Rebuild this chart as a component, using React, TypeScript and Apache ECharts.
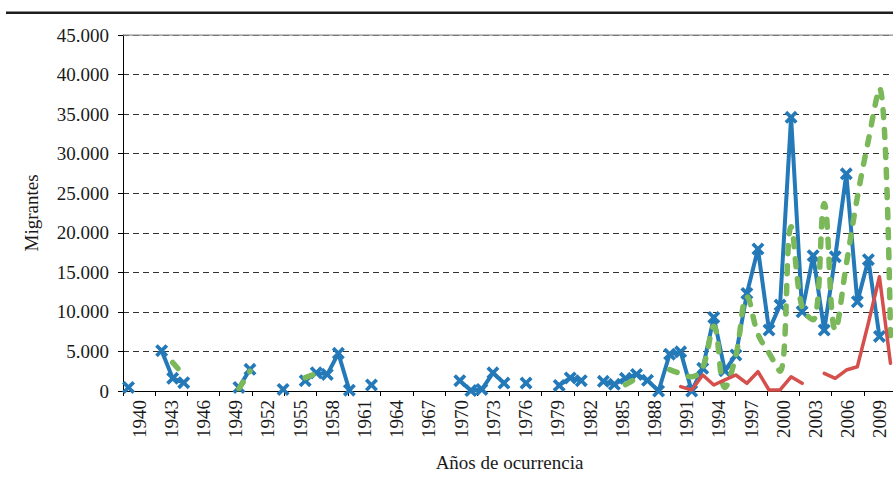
import React, { useEffect, useRef } from "react";
import * as echarts from "echarts";

// Visible axis: tick and label categories
const tickYears = [
  "1939","1940","1941","1942","1943","1944","1945","1946","1947","1948",
  "1949","1950","1951","1952","1953","1954","1955","1956","1957","1958",
  "1959","1960","1961","1962","1963","1964","1965","1966","1967","1968",
  "1969","1970","1971","1972","1973","1974","1975","1976","1977","1978",
  "1979","1980","1981","1982","1983","1984","1985","1986","1987","1988",
  "1989","1990","1991","1992","1993","1994","1995","1996","1997","1998",
  "1999","2000","2001","2002","2003","2004","2005","2006","2007","2008",
  "2009","2010",
];

// Data categories (one per plotted point)
const dataYears = [
  "1940","1941","1942","1943","1944","1945","1946","1947","1948","1949",
  "1950","1951","1952","1953","1954","1955","1956","1957","1958","1959",
  "1960","1961","1962","1963","1964","1965","1966","1967","1968","1969",
  "1970","1971","1972","1973","1974","1975","1976","1977","1978","1979",
  "1980","1981","1982","1983","1984","1985","1986","1987","1988","1989",
  "1990","1991","1992","1993","1994","1995","1996","1997","1998","1999",
  "2000","2001","2002","2003","2004","2005","2006","2007","2008","2009",
];

const blueSeries = [
  450, null, null, 5100, 1600, 1050, null, null, null, null,
  450, 2740, null, null, 200, null, 1300, 2310, 2100, 4760,
  100, null, 760, null, null, null, null, null, null, null,
  1300, 50, 200, 2300, 1000, null, 1000, null, null, 700,
  1650, 1300, null, 1220, 850, 1600, 2100, 1350, 0, 4650,
  4950, 0, 2860, 9300, 2570, 4550, 12340, 17950, 7700, 10860,
  34600, 10020, 17100, 7700, 16970, 27450, 11280, 16600, 6900, null,
];

const greenSeries = [
  null, null, null, null, 3600, 2000, null, null, null, null,
  300, 2500, null, null, null, null, 1700, 2200, null, null,
  null, null, null, null, null, null, null, null, null, null,
  null, null, null, null, null, null, null, null, null, null,
  null, null, null, null, null, 800, 1600, null, null, 2700,
  2200, 1800, 3000, 8200, 450, 4500, 11900, 7200, 4800, 2500,
  20750, 10500, 9000, 23700, 7700, 16000, 24500, 31700, 38300, 7000,
];

const redSeries = [
  null, null, null, null, null, null, null, null, null, null,
  null, null, null, null, null, null, null, null, null, null,
  null, null, null, null, null, null, null, null, null, null,
  null, null, null, null, null, null, null, null, null, null,
  null, null, null, null, null, null, null, null, null, null,
  550, 130, 2020, 760, 1400, 2020, 970, 2440, 130, 130,
  1800, 970, null, 2230, 1600, 2650, 3070, 8600, 14440, 3500,
];

const yMin = 0;
const yMax = 45000;
const yStep = 5000;

const FONT = '"Liberation Serif", "Times New Roman", serif';
const TEXT = "#1a1a1a";
const BLUE = "#2479b8";
const GREEN = "#7bb85a";
const RED = "#d5504c";
const X_SYMBOL = "path://M0,2L2,0L5,3L8,0L10,2L7,5L10,8L8,10L5,7L2,10L0,8L3,5Z";

function formatY(v: number): string {
  if (v === 0) return "0";
  return String(v / 1000) + ".000";
}

export default function App() {
  const ref = useRef<HTMLDivElement>(null);
  useEffect(() => {
    if (!ref.current) return;
    const chart = echarts.init(ref.current, null, { renderer: "svg" });
    chart.setOption({
      animation: false,
      backgroundColor: "#fff",
      textStyle: { fontFamily: FONT, color: TEXT },
      grid: {
        left: 123,
        top: 35,
        width: 773,
        height: 356,
        containLabel: false,
        outerBoundsMode: "none",
      },
      graphic: [
        {
          type: "rect",
          left: 6,
          top: 11.5,
          shape: { x: 0, y: 0, width: 930, height: 2.6 },
          style: { fill: "#1e1e1e" },
          z: 100,
        },
        {
          type: "rect",
          left: 123,
          top: 34.4,
          shape: { x: 0, y: 0, width: 800, height: 1.3 },
          style: { fill: "#8c8c8c" },
          z: 100,
        },
      ],
      xAxis: [
        {
          type: "category",
          data: tickYears,
          boundaryGap: true,
          position: "bottom",
          name: "Años de ocurrencia",
          nameLocation: "middle",
          nameGap: 62,
          nameTextStyle: { fontFamily: FONT, fontSize: 19, color: TEXT },
          axisLine: { show: true, lineStyle: { color: "#000", width: 1 } },
          axisTick: {
            show: true,
            length: 5,
            interval: (i: number) => i % 3 === 0,
            lineStyle: { color: "#000", width: 1 },
          },
          axisLabel: {
            show: true,
            rotate: 90,
            margin: 9,
            interval: (i: number) => i % 3 === 1,
            fontFamily: FONT,
            fontSize: 19,
            color: TEXT,
          },
          splitLine: { show: false },
        },
        {
          type: "category",
          data: dataYears,
          boundaryGap: true,
          position: "bottom",
          show: false,
        },
      ],
      yAxis: {
        type: "value",
        min: yMin,
        max: yMax,
        interval: yStep,
        name: "Migrantes",
        nameLocation: "middle",
        nameRotate: 90,
        nameGap: 82,
        nameTextStyle: { fontFamily: FONT, fontSize: 19, color: TEXT },
        axisLine: { show: true, lineStyle: { color: "#000", width: 1 } },
        axisTick: { show: true, length: 5, lineStyle: { color: "#000", width: 1 } },
        axisLabel: {
          margin: 14,
          fontFamily: FONT,
          fontSize: 19,
          color: TEXT,
          formatter: (v: number) => formatY(v),
        },
        splitLine: {
          show: true,
          lineStyle: { color: "#333", width: 1, type: [6, 4] },
        },
      },
      series: [
        {
          type: "line",
          name: "blue",
          xAxisIndex: 1,
          data: blueSeries,
          connectNulls: false,
          showSymbol: true,
          showAllSymbol: true,
          symbol: X_SYMBOL,
          symbolSize: 13,
          itemStyle: { color: BLUE },
          lineStyle: { color: BLUE, width: 4, cap: "round", join: "round" },
          z: 2,
        },
        {
          type: "line",
          name: "green",
          xAxisIndex: 1,
          data: greenSeries,
          connectNulls: false,
          showSymbol: false,
          smooth: 0.4,
          lineStyle: { color: GREEN, width: 5.5, type: [8, 12], cap: "round", join: "round" },
          z: 3,
        },
        {
          type: "line",
          name: "red",
          xAxisIndex: 1,
          data: redSeries,
          connectNulls: false,
          showSymbol: false,
          lineStyle: { color: RED, width: 3.5, cap: "round", join: "round" },
          z: 4,
        },
      ],
    });
    return () => chart.dispose();
  }, []);
  return (
    <div
      style={{
        position: "fixed",
        left: 0,
        top: 0,
        width: 893,
        height: 479,
        overflow: "hidden",
        background: "#fff",
      }}
    >
      <div ref={ref} style={{ width: 930, height: 479 }} />
    </div>
  );
}
